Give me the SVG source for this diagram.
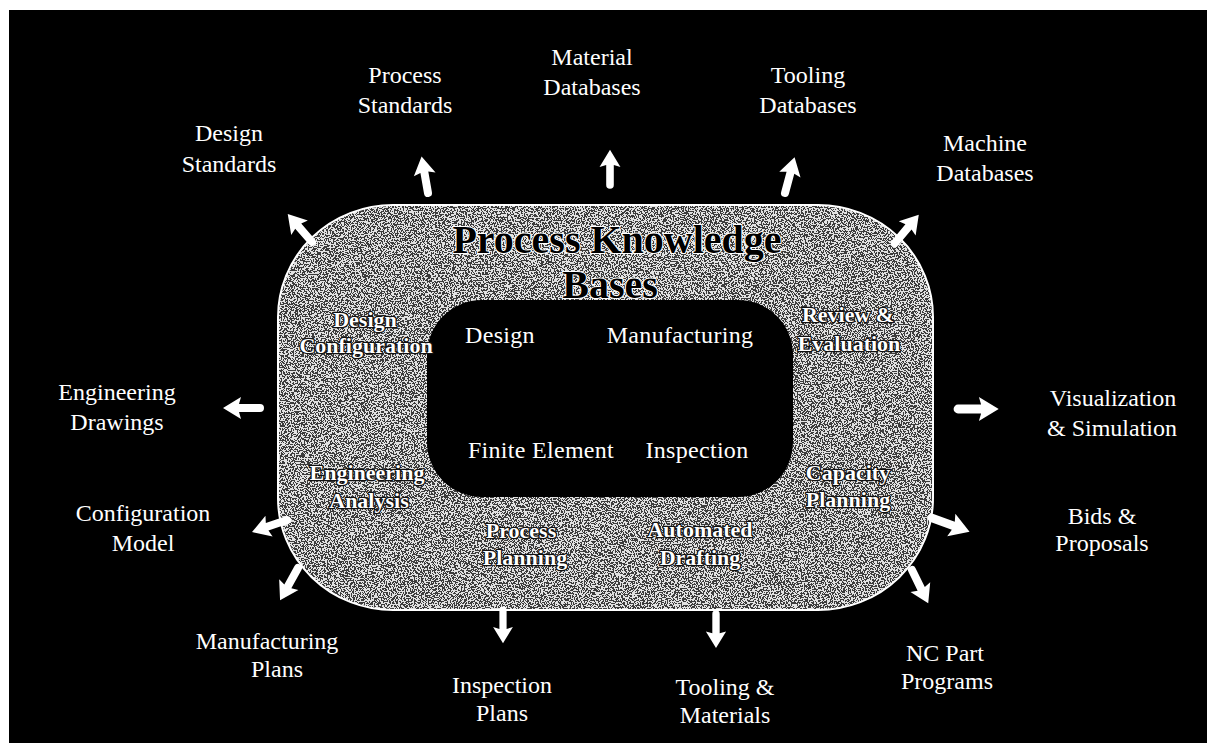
<svg xmlns="http://www.w3.org/2000/svg" xmlns:xlink="http://www.w3.org/1999/xlink" width="1207" height="743" viewBox="0 0 1207 743">
  <style>
    .lbl { font-family: "Liberation Serif", "Times New Roman", serif; font-size: 24px; fill: #ffffff; text-anchor: middle; }
    .core { font-family: "Liberation Serif", "Times New Roman", serif; font-size: 24px; fill: #ffffff; text-anchor: middle; letter-spacing: 0.3px; }
    .ring { font-family: "Liberation Serif", "Times New Roman", serif; font-size: 22px; font-weight: bold; fill: #ffffff; stroke: #111111; stroke-width: 2.5px; paint-order: stroke; stroke-linejoin: round; text-anchor: middle; }
    .title { font-family: "Liberation Serif", "Times New Roman", serif; font-size: 40px; font-weight: bold; fill: #000000; stroke: #ffffff; stroke-width: 2px; paint-order: stroke; text-anchor: middle; }
    .arrow { fill: #ffffff; }
  </style>
  <defs>
    <!-- stippled grey texture for the knowledge-base ring -->
    <filter id="grain" x="0" y="0" width="100%" height="100%" color-interpolation-filters="sRGB">
      <feTurbulence type="fractalNoise" baseFrequency="0.7" numOctaves="2" seed="7" result="noise"/>
      <feColorMatrix in="noise" type="matrix" values="0 0 0 0 1  0 0 0 0 1  0 0 0 0 1  1 0 0 0 0" result="white"/>
      <feComponentTransfer in="white" result="specks">
        <feFuncA type="discrete" tableValues="0 0 0 0 0 0 0 0 0 0 0.85 0.85 0.85 0.85 0.85 0.85 0.85 0.85 0.85 0.85"/>
      </feComponentTransfer>
      <feComposite in="specks" in2="SourceAlpha" operator="in" result="clipped"/>
      <feMerge>
        <feMergeNode in="SourceGraphic"/>
        <feMergeNode in="clipped"/>
      </feMerge>
    </filter>
    <!-- block arrow pointing along +x, tail at origin -->
    <path id="arr" d="M0,-4 L21,-4 L19,-11 L37,0 L19,11 L21,4 L0,4 A4,4 0 0 1 0,-4 Z"/>
  </defs>

  <rect x="0" y="0" width="1207" height="743" fill="#ffffff"/>
  <rect x="9" y="10" width="1198" height="733" fill="#000000"/>

  <!-- ring of process knowledge bases -->
  <g id="knowledge-bases">
    <rect x="278" y="205" width="655" height="405" rx="115" ry="112" fill="#3c3c3c" filter="url(#grain)"/>
    <rect x="278" y="205" width="655" height="405" rx="115" ry="112" fill="none" stroke="#ffffff" stroke-width="2"/>
    <text class="title" x="617" y="253">Process Knowledge</text>
    <text class="title" x="610" y="298">Bases</text>
  </g>

  <!-- inner core -->
  <g id="core">
    <rect x="427" y="300" width="366" height="197" rx="55" ry="55" fill="#000000"/>
    <text class="core" x="500" y="343">Design</text>
    <text class="core" x="680" y="343">Manufacturing</text>
    <text class="core" x="541" y="458">Finite Element</text>
    <text class="core" x="697" y="458">Inspection</text>
  </g>

  <!-- activities on the ring -->
  <g id="design-configuration">
    <text class="ring" x="365" y="327">Design</text>
    <text class="ring" x="366" y="353">Configuration</text>
  </g>
  <g id="review-evaluation">
    <text class="ring" x="848" y="322">Review &amp;</text>
    <text class="ring" x="849" y="351">Evaluation</text>
  </g>
  <g id="engineering-analysis">
    <text class="ring" x="367" y="480">Engineering</text>
    <text class="ring" x="369" y="508">Analysis</text>
  </g>
  <g id="capacity-planning">
    <text class="ring" x="848" y="480">Capacity</text>
    <text class="ring" x="848" y="507">Planning</text>
  </g>
  <g id="process-planning">
    <text class="ring" x="521" y="538">Process</text>
    <text class="ring" x="525" y="565">Planning</text>
  </g>
  <g id="automated-drafting">
    <text class="ring" x="700" y="537">Automated</text>
    <text class="ring" x="700" y="565">Drafting</text>
  </g>

  <!-- outputs -->
  <g id="design-standards">
    <text class="lbl" x="229" y="141">Design</text>
    <text class="lbl" x="229" y="172">Standards</text>
  </g>
  <g id="process-standards">
    <text class="lbl" x="405" y="83">Process</text>
    <text class="lbl" x="405" y="113">Standards</text>
  </g>
  <g id="material-databases">
    <text class="lbl" x="592" y="65">Material</text>
    <text class="lbl" x="592" y="95">Databases</text>
  </g>
  <g id="tooling-databases">
    <text class="lbl" x="808" y="83">Tooling</text>
    <text class="lbl" x="808" y="113">Databases</text>
  </g>
  <g id="machine-databases">
    <text class="lbl" x="985" y="151">Machine</text>
    <text class="lbl" x="985" y="181">Databases</text>
  </g>
  <g id="engineering-drawings">
    <text class="lbl" x="117" y="400">Engineering</text>
    <text class="lbl" x="117" y="430">Drawings</text>
  </g>
  <g id="visualization-simulation">
    <text class="lbl" x="1113" y="406">Visualization</text>
    <text class="lbl" x="1112" y="436">&amp; Simulation</text>
  </g>
  <g id="configuration-model">
    <text class="lbl" x="143" y="521">Configuration</text>
    <text class="lbl" x="143" y="551">Model</text>
  </g>
  <g id="bids-proposals">
    <text class="lbl" x="1102" y="524">Bids &amp;</text>
    <text class="lbl" x="1102" y="551">Proposals</text>
  </g>
  <g id="manufacturing-plans">
    <text class="lbl" x="267" y="649">Manufacturing</text>
    <text class="lbl" x="277" y="677">Plans</text>
  </g>
  <g id="inspection-plans">
    <text class="lbl" x="502" y="693">Inspection</text>
    <text class="lbl" x="502" y="721">Plans</text>
  </g>
  <g id="tooling-materials">
    <text class="lbl" x="725" y="695">Tooling &amp;</text>
    <text class="lbl" x="725" y="723">Materials</text>
  </g>
  <g id="nc-part-programs">
    <text class="lbl" x="945" y="661">NC Part</text>
    <text class="lbl" x="947" y="689">Programs</text>
  </g>

  <!-- arrows from the ring to each output -->
  <g id="connectors" class="arrow">
    <use xlink:href="#arr" transform="translate(312,242) rotate(229)"/>
    <use xlink:href="#arr" transform="translate(428,193) rotate(260)"/>
    <use xlink:href="#arr" transform="translate(610,185) rotate(270) scale(0.95)"/>
    <use xlink:href="#arr" transform="translate(785,193) rotate(285)"/>
    <use xlink:href="#arr" transform="translate(895,243) rotate(310)"/>
    <use xlink:href="#arr" transform="translate(260,408) rotate(180)"/>
    <use xlink:href="#arr" transform="translate(958,409) rotate(0) scale(1.1)"/>
    <use xlink:href="#arr" transform="translate(287,520) rotate(161)"/>
    <use xlink:href="#arr" transform="translate(932,518) rotate(20) scale(1.08)"/>
    <use xlink:href="#arr" transform="translate(298,568) rotate(119)"/>
    <use xlink:href="#arr" transform="translate(503,610) rotate(90) scale(0.9)"/>
    <use xlink:href="#arr" transform="translate(716,614) rotate(90) scale(0.92)"/>
    <use xlink:href="#arr" transform="translate(912,570) rotate(64)"/>
  </g>
</svg>
